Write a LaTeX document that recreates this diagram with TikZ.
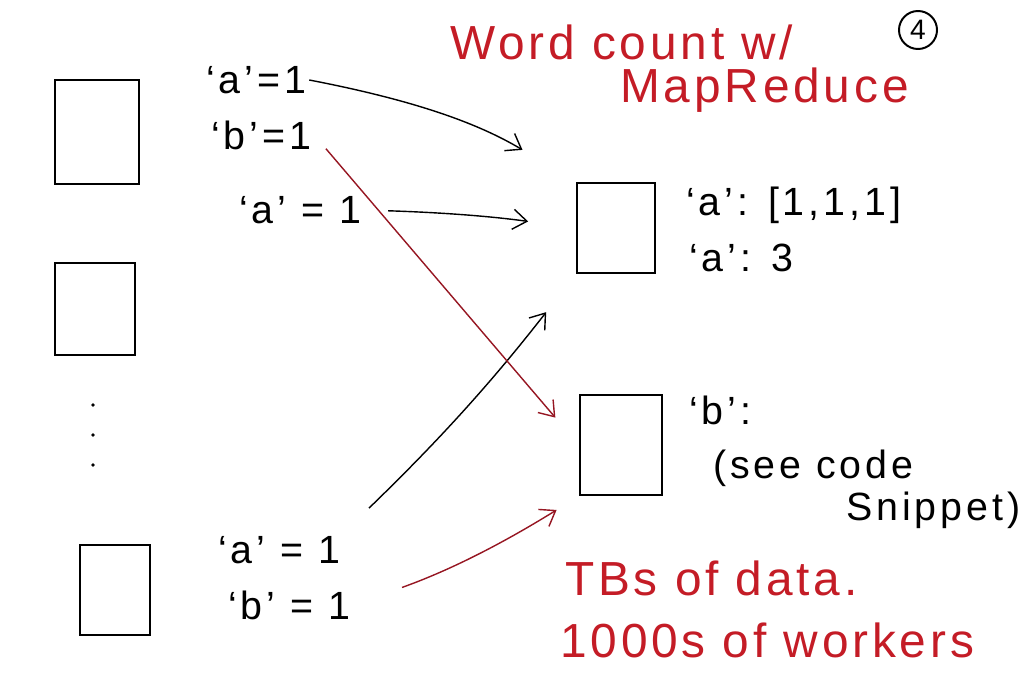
\documentclass[tikz,border=0pt]{standalone}
\usepackage{fontspec}
\setmainfont{Liberation Sans}
\usetikzlibrary{arrows.meta,positioning}
\definecolor{notecolor}{RGB}{196,28,38}
\definecolor{redarrow}{RGB}{150,22,34}

\begin{document}
\begin{tikzpicture}[
    x=0.025cm, y=-0.025cm,
    worker/.style={rectangle, draw=black, line width=1.8pt, inner sep=0pt},
    kv/.style={anchor=west, inner sep=2pt, font=\fontsize{28}{32}\selectfont\addfontfeature{LetterSpace=10}},
    note/.style={anchor=west, inner sep=0pt, text=notecolor, font=\fontsize{34}{40}\selectfont\addfontfeature{LetterSpace=8}},
    mapto/.style={-{Straight Barb[length=3.5mm,width=5mm]}, line width=1pt},
    redmapto/.style={mapto, draw=redarrow}
]
\useasboundingbox (0,0) rectangle (1032,694);

% Mappers
\node[worker, minimum width=2.1cm, minimum height=2.6cm] (m1) at (97,132) {};
\node[worker, minimum width=2cm, minimum height=2.3cm] (m2) at (95,309) {};
\node[worker, minimum width=1.75cm, minimum height=2.25cm] (m3) at (115,590) {};
\foreach \y in {405,435,465}
  \fill (93,\y) circle (1.8);

% Reducers
\node[worker, minimum width=1.95cm, minimum height=2.25cm] (r1) at (616,228) {};
\node[worker, minimum width=2.05cm, minimum height=2.5cm] (r2) at (621,445) {};

% Map output
\node[kv] (ka1) at (203,80) {`a'=1};
\node[kv] (kb1) at (208,135) {`b'=1};
\node[kv] (ka2) at (236,210) {`a' = 1};
\node[kv] (ka3) at (215,550) {`a' = 1};
\node[kv] (kb3) at (225,605) {`b' = 1};

% Reduce output
\node[kv] (ra1) at (683,205) {`a': [1,1,1]};
\node[kv] (ra2) at (686,258) {`a': 3};
\node[kv] (rb) at (686,410) {`b':};
\node[kv] (see) at (710,468) {(see code};
\node[kv] (snip) at (843,510) {Snippet)};

% Title and notes
\node[note] (title1) at (450,42) {Word count w/};
\node[note] (title2) at (620,90) {MapReduce};
\node[circle, draw=black, line width=1.4pt, inner sep=0pt, minimum size=0.95cm,
      font=\fontsize{20}{22}\selectfont] (page) at (918,30) {4};
\node[note] (tbs) at (565,578) {TBs of data.};
\node[note] (workers) at (560,640) {1000s of workers};

% Shuffle
\draw[mapto, shorten >=1.55cm] (ka1.east) to[bend left=10] (r1.north west);
\draw[mapto, shorten <=0.6cm, shorten >=1.2cm] (ka2.east) to[bend left=3] (r1.west);
\draw[mapto, shorten <=0.9cm, shorten >=1.2cm] (ka3.north east) to[bend right=4] (r1.south west);
\draw[redmapto, shorten <=0.45cm, shorten >=0.9cm] (kb1.east) -- (r2.west);
\draw[redmapto, shorten <=1.3cm, shorten >=0.65cm] (kb3.east) to[bend right=6] (r2.south west);

\end{tikzpicture}
\end{document}
